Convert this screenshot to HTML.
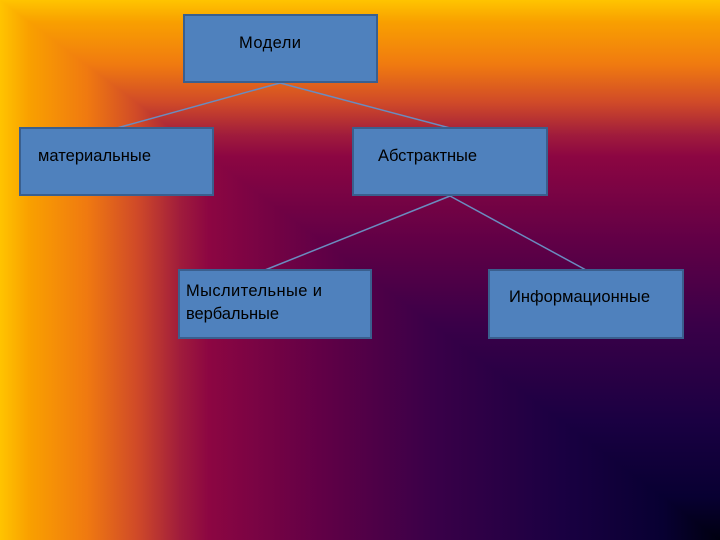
<!DOCTYPE html>
<html><head><meta charset="utf-8"><style>
html,body{margin:0;padding:0;width:720px;height:540px;overflow:hidden}
svg{display:block}
text{font-family:"Liberation Sans","DejaVu Sans",sans-serif;font-size:16.5px;fill:#000}
</style></head><body>
<svg width="720" height="540" viewBox="0 0 720 540">
<defs>
<linearGradient id="h" x1="0" y1="0" x2="720" y2="0" gradientUnits="userSpaceOnUse">
<stop offset="0" stop-color="#ffc400"/><stop offset="0.04" stop-color="#f9a000"/><stop offset="0.12" stop-color="#f07a10"/><stop offset="0.19" stop-color="#d04a28"/><stop offset="0.25" stop-color="#a01c3c"/><stop offset="0.29" stop-color="#8c0642"/><stop offset="0.45" stop-color="#600046"/><stop offset="0.6" stop-color="#3a0048"/><stop offset="0.78" stop-color="#1a0042"/><stop offset="0.92" stop-color="#080032"/><stop offset="1" stop-color="#000010"/>
</linearGradient>
<linearGradient id="v" x1="0" y1="0" x2="0" y2="540" gradientUnits="userSpaceOnUse">
<stop offset="0" stop-color="#ffc400"/><stop offset="0.04" stop-color="#f9a000"/><stop offset="0.12" stop-color="#f07a10"/><stop offset="0.19" stop-color="#d04a28"/><stop offset="0.25" stop-color="#a01c3c"/><stop offset="0.29" stop-color="#8c0642"/><stop offset="0.45" stop-color="#600046"/><stop offset="0.6" stop-color="#3a0048"/><stop offset="0.78" stop-color="#1a0042"/><stop offset="0.92" stop-color="#080032"/><stop offset="1" stop-color="#000010"/>
</linearGradient>
</defs>
<rect width="720" height="540" fill="url(#h)"/>
<polygon points="0,0 720,0 720,540" fill="url(#v)"/>
<g stroke="#6a8cc0" stroke-width="1.5">
<line x1="280" y1="83" x2="117" y2="128"/><line x1="280" y1="83" x2="450" y2="128"/>
<line x1="450" y1="196" x2="265" y2="270"/><line x1="450" y1="196" x2="586" y2="270"/>
</g>
<g fill="#4f81bd" stroke="#3a5f8e" stroke-width="2">
<rect x="184" y="15" width="193" height="67"/>
<rect x="20" y="128" width="193" height="67"/>
<rect x="353" y="128" width="194" height="67"/>
<rect x="179" y="270" width="192" height="68"/>
<rect x="489" y="270" width="194" height="68"/>
</g>
<text x="239" y="48" textLength="62">Модели</text>
<text x="38" y="161" textLength="113">материальные</text>
<text x="378" y="161" textLength="99">Абстрактные</text>
<text x="186" y="296" textLength="136">Мыслительные  и</text>
<text x="186" y="319" textLength="93">вербальные</text>
<text x="509" y="302" textLength="141">Информационные</text>
</svg>
</body></html>
